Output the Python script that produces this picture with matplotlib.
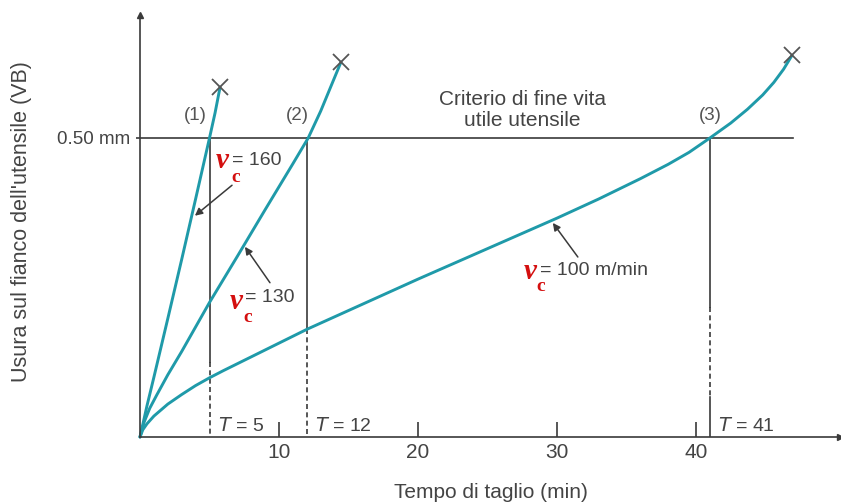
import matplotlib
matplotlib.use("Agg")
import matplotlib.pyplot as plt

# ---- data (time in min, flank wear VB in mm) ----
t1 = [0, 0.5, 1, 2, 3, 4, 5, 5.4, 5.76]
vb1 = [0, 0.052, 0.1, 0.198, 0.297, 0.398, 0.5, 0.542, 0.585]

t2 = [0, 0.3, 0.7, 1.2, 2, 3, 5, 7, 9, 11, 12.1, 13, 13.8, 14.46]
vb2 = [0, 0.025, 0.048, 0.07, 0.104, 0.143, 0.225, 0.302, 0.38, 0.457, 0.5, 0.545, 0.59, 0.627]

t3 = [0, 0.2, 0.5, 1, 2, 3, 4, 5, 6, 8, 10, 12, 16, 20, 25, 30, 33, 36, 38, 39.5, 41,
      42.5, 43.7, 44.8, 45.6, 46.3, 46.9]
vb3 = [0, 0.012, 0.022, 0.035, 0.055, 0.071, 0.086, 0.099, 0.111, 0.134, 0.157, 0.18, 0.222,
       0.264, 0.315, 0.366, 0.398, 0.432, 0.456, 0.476, 0.5, 0.525, 0.548, 0.572, 0.593, 0.615, 0.638]

tool_life = [5, 12, 41]
life_labels = ["(1)", "(2)", "(3)"]
t_labels = ["$T$ = 5", "$T$ = 12", "$T$ = 41"]
speeds = ["= 160", "= 130", "= 100 m/min"]
criterion_vb = 0.5
xticks = [10, 20, 30, 40]

TEAL = "#1f9aa9"
DARK = "#3a3a3a"
TXT = "#444444"
RED = "#d40f0f"
FONT = "Liberation Sans"

fig = plt.figure(figsize=(8.41, 5.04), dpi=100)
ax = fig.add_axes([140/841, (504-437)/504, 700/841, 422/504])
ax.set_xlim(0, 700/13.9)
ax.set_ylim(0, 422/598)

for s in ["top", "right"]:
    ax.spines[s].set_visible(False)
for s in ["left", "bottom"]:
    ax.spines[s].set_color(DARK)
    ax.spines[s].set_linewidth(1.2)
ax.plot(1, 0, ">", transform=ax.transAxes, color=DARK, ms=5, clip_on=False)
ax.plot(0, 1, "^", transform=ax.transAxes, color=DARK, ms=5, clip_on=False)

ax.set_xticks(xticks)
ax.set_xticklabels([str(v) for v in xticks], fontsize=15, family=FONT, color=TXT)
ax.tick_params(axis="x", direction="in", length=11, width=1.2, color=DARK, pad=4)
ax.set_yticks([criterion_vb])
ax.set_yticklabels(["0.50 mm"], fontsize=13.5, family=FONT, color=TXT)
ax.tick_params(axis="y", direction="out", length=3, width=1.2, color=DARK, pad=4)

# criterion line
ax.plot([0, 46.98], [criterion_vb, criterion_vb], color=DARK, lw=1.2)

# vertical lines: solid upper part, dashed lower part
ax.plot([5, 5], [0.5, 0.125], color=DARK, lw=1.2)
ax.plot([5, 5], [0.125, 0], color=DARK, lw=1.2, ls=(0, (3, 2)))
ax.plot([12, 12], [0.5, 0.18], color=DARK, lw=1.2)
ax.plot([12, 12], [0.18, 0], color=DARK, lw=1.2, ls=(0, (3, 2)))
ax.plot([41, 41], [0.5, 0.217], color=DARK, lw=1.2)
ax.plot([41, 41], [0.217, 0.067], color=DARK, lw=1.2, ls=(0, (3, 2)))
ax.plot([41, 41], [0.067, 0], color=DARK, lw=1.2)

# curves
for t, vb in [(t1, vb1), (t2, vb2), (t3, vb3)]:
    ax.plot(t, vb, color=TEAL, lw=2.1, solid_capstyle="round", solid_joinstyle="round", clip_on=False)
    ax.plot(t[-1], vb[-1], "x", color="#555555", ms=11, mew=1.3, clip_on=False)

# labels (1) (2) (3)
for x, lab in zip([3.96, 11.3, 41.0], life_labels):
    ax.text(x, 0.538, lab, fontsize=13.5, family=FONT, color="#555555", ha="center", va="center")

ax.text(27.5, 0.547, "Criterio di fine vita\nutile utensile", fontsize=15, family=FONT,
        color=TXT, ha="center", va="center", linespacing=1.1)

# T labels
for x, lab in zip([5.6, 12.6, 41.6], t_labels):
    ax.text(x, 0.019, lab, fontsize=14, family=FONT, color=TXT, ha="left", va="center")

# v_c labels
vpos = [(5.9, 0.462), (6.9, 0.226), (28.1, 0.276)]
cpos = [(6.9, 0.434), (7.77, 0.199), (28.85, 0.251)]
tpos = [(6.62, 0.463), (7.55, 0.234), (28.8, 0.279)]
for (vx, vy), (cx, cy), (tx, ty), s in zip(vpos, cpos, tpos, speeds):
    ax.text(vx, vy, "v", fontsize=21, family="Liberation Serif", style="italic", weight="bold",
            color=RED, ha="center", va="center")
    ax.text(cx, cy, "c", fontsize=14, family="Liberation Serif", weight="bold",
            color=RED, ha="center", va="center")
    ax.text(tx, ty, s, fontsize=14, family=FONT, color=TXT, ha="left", va="center")

# arrows
arrows = [((6.62, 0.421), (3.95, 0.37)), ((9.35, 0.258), (7.55, 0.318)), ((31.5, 0.301), (29.7, 0.358))]
for tail, head in arrows:
    ax.annotate("", xy=head, xytext=tail,
                arrowprops=dict(arrowstyle="-|>", color=DARK, lw=1.1, mutation_scale=11,
                                shrinkA=0, shrinkB=0))

fig.text(22/841, 1-222/504, "Usura sul fianco dell'utensile (VB)", rotation=90, fontsize=15.5,
         family=FONT, color=TXT, ha="center", va="center")
fig.text(491/841, 1-492/504, "Tempo di taglio (min)", fontsize=15, family=FONT, color=TXT,
         ha="center", va="center")

fig.savefig("out.png", dpi=100)
